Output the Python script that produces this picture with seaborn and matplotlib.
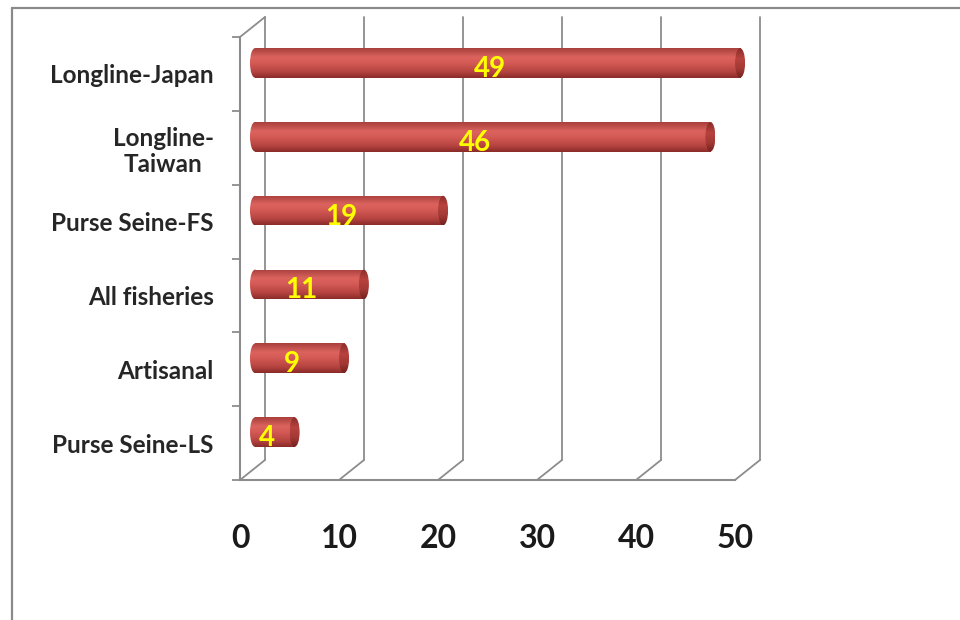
import numpy as np
import pandas as pd
import matplotlib
matplotlib.use("Agg")
import matplotlib.pyplot as plt
import seaborn as sns
from matplotlib.transforms import ScaledTranslation
from matplotlib.patches import Ellipse
from matplotlib.colors import LinearSegmentedColormap
from matplotlib.lines import Line2D

# Data
categories = ["Longline-Japan", "Longline-\nTaiwan", "Purse Seine-FS",
              "All fisheries", "Artisanal", "Purse Seine-LS"]
values = [49, 46, 19, 11, 9, 4]
x_ticks = [0, 10, 20, 30, 40, 50]

sns.set_theme(style="white")
plt.rcParams["font.family"] = ["Lato", "DejaVu Sans"]

W, H = 960, 620
fig = plt.figure(figsize=(W / 100, H / 100), dpi=100)
ax = fig.add_axes([240 / W, (H - 480) / H, 495 / W, 443 / H])

df = pd.DataFrame({"fishery": categories, "value": values})
sns.barplot(data=df, x="value", y="fishery", orient="h", width=0.4,
            color="#C0504D", ax=ax, zorder=3, saturation=1)

ax.set_xlim(0, 50)
ax.set_ylim(5.5, -0.5)
ax.set_xlabel("")
ax.set_ylabel("")

grid_c = "#8c8c8c"
px_x = 495 / 50.0
px_y = 443 / 6.0
DX = 25 / px_x   # depth offset of the back wall, data units
DY = 20 / px_y

# front axes
for side in ("top", "right"):
    ax.spines[side].set_visible(False)
for side in ("left", "bottom"):
    ax.spines[side].set_color(grid_c)
    ax.spines[side].set_linewidth(1.5)

ax.set_xticks(x_ticks)
ax.set_xticklabels([str(t) for t in x_ticks])
ax.tick_params(axis="x", direction="out", length=7, width=1.3, color=grid_c,
               pad=25, labelsize=23, labelcolor="#1a1a1a")
for lab in ax.get_xticklabels():
    lab.set_fontweight("bold")

ax.set_yticks(np.arange(-0.5, 6.0, 1.0), minor=True)
ax.tick_params(axis="y", which="minor", direction="out", length=6, width=1.3,
               color=grid_c, left=True)
ax.tick_params(axis="y", which="major", length=0, pad=19, labelsize=17.5,
               labelcolor="#262626")
for lab in ax.get_yticklabels():
    lab.set_fontweight("bold")
    lab.set_multialignment("center")
    lab.set_linespacing(1.15)

# back wall gridlines and floor diagonals
for x in x_ticks:
    ax.plot([x + DX, x + DX], [5.5 - DY, -0.5 - DY], color=grid_c, lw=1.3,
            clip_on=False, zorder=1)
    ax.plot([x, x + DX], [5.5, 5.5 - DY], color=grid_c, lw=1.3,
            clip_on=False, zorder=1)
ax.plot([0, DX], [-0.5, -0.5 - DY], color=grid_c, lw=1.3, clip_on=False, zorder=1)

# cylinder shading
body_cmap = LinearSegmentedColormap.from_list(
    "body", [(0, "#a8403c"), (0.3, "#dc635e"), (0.5, "#d45a55"),
             (0.8, "#b5433f"), (1, "#8a2c29")])
cap_cmap = LinearSegmentedColormap.from_list(
    "cap", [(0, "#8a2c29"), (0.35, "#b8423e"), (0.7, "#a13834"), (1, "#74221f")])
grad = np.linspace(0, 1, 64).reshape(-1, 1)

bar_tr = ax.transData + ScaledTranslation(15 / 100, 11 / 100, fig.dpi_scale_trans)
cap_a = 5 / px_x

for p in list(ax.patches):
    x0, y0, w, h = p.get_x(), p.get_y(), p.get_width(), p.get_height()
    yc = y0 + h / 2
    p.set_transform(bar_tr)
    p.set_edgecolor("none")
    p.set_clip_on(False)
    # rounded left end
    left = Ellipse((x0, yc), 2 * cap_a, h, transform=bar_tr, facecolor="none",
                   edgecolor="none", zorder=2.5, clip_on=False)
    ax.add_patch(left)
    im = ax.imshow(grad, cmap=body_cmap, aspect="auto", origin="upper",
                   extent=(x0 - cap_a, x0 + cap_a, y0 + h, y0),
                   interpolation="bicubic", zorder=2.6)
    im.set_transform(bar_tr)
    im.set_clip_path(left)
    im.set_clip_box(fig.bbox)
    # body
    im = ax.imshow(grad, cmap=body_cmap, aspect="auto", origin="upper",
                   extent=(x0, x0 + w, y0 + h, y0),
                   interpolation="bicubic", zorder=3.1)
    im.set_transform(bar_tr)
    im.set_clip_path(p)
    # right end cap
    cap = Ellipse((x0 + w, yc), 2 * cap_a, h, transform=bar_tr,
                  facecolor="none", edgecolor="none", zorder=3.5, clip_on=False)
    ax.add_patch(cap)
    im = ax.imshow(grad, cmap=cap_cmap, aspect="auto", origin="upper",
                   extent=(x0 + w - cap_a, x0 + w + cap_a, y0 + h, y0),
                   interpolation="bicubic", zorder=3.6)
    im.set_transform(bar_tr)
    im.set_clip_path(cap)
    im.set_clip_box(fig.bbox)

ax.set_xlim(0, 50)
ax.set_ylim(5.5, -0.5)

# value labels
lab_tr = ax.transData + ScaledTranslation(7 / 100, 5 / 100, fig.dpi_scale_trans)
for i, v in enumerate(values):
    ax.text(v / 2, i, str(v), transform=lab_tr, ha="center", va="center",
            color="#FFFF00", fontsize=20, fontweight="bold", zorder=5)

# outer frame
frame_c = "#8a8a8a"
fig.add_artist(Line2D([12 / W, 12 / W], [0, (H - 8) / H], color=frame_c, lw=1.6))
fig.add_artist(Line2D([12 / W, 1], [(H - 8) / H, (H - 8) / H], color=frame_c, lw=1.6))

fig.savefig("out.png", dpi=100, facecolor="white")
